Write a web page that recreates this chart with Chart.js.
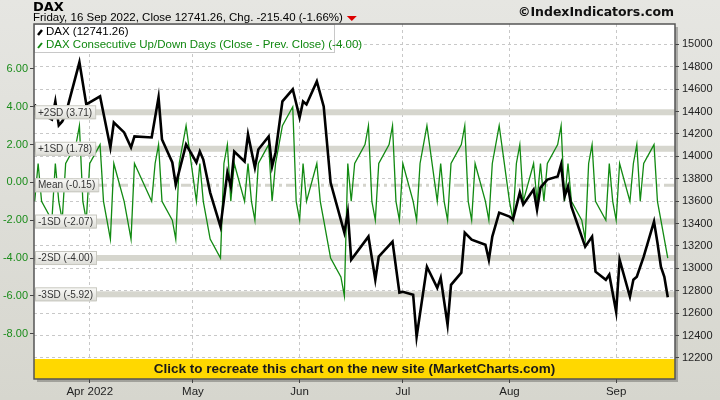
<!DOCTYPE html>
<html><head><meta charset="utf-8">
<script src="https://cdn.jsdelivr.net/npm/chart.js@4"></script>
<style>html,body{margin:0;padding:0;background:#e4e4e0}#wrap{width:720px;height:400px;position:relative}</style>
</head><body><div id="wrap"><canvas id="c" width="720" height="400"></canvas></div>
<script>
// trading days per month (2022)
const marDays=[16,17,18,21,22,23,24,25,28,29,30,31];
const aprDays=[1,4,5,6,7,8,11,12,13,14,19,20,21,22,25,26,27,28,29];
const mayDays=[2,3,4,5,6,9,10,11,12,13,16,17,18,19,20,23,24,25,26,27,30,31];
const junDays=[1,2,3,6,7,8,9,10,13,14,15,16,17,20,21,22,23,24,27,28,29,30];
const julDays=[1,4,5,6,7,8,11,12,13,14,15,18,19,20,21,22,25,26,27,28,29];
const augDays=[1,2,3,4,5,8,9,10,11,12,15,16,17,18,19,22,23,24,25,26,29,30,31];
const sepDays=[1,2,5,6,7,8,9,12,13,14,15,16];
// DAX close (null = not read, line spans)
const daxMar=[14463,14392,null,14329,14490,14276,14311,14374,null,14839,null,14463];
const daxApr=[null,14535,null,null,14079,14302,14213,null,14079,14177,14168,null,14526,14150,13945,13748,null,null,14106];
const daxMay=[13945,14043,13971,null,13676,13372,null,13855,13730,14043,13954,14195,null,13900,14061,14177,13909,14034,null,14490,14598,null];
const daxJun=[14347,14490,14463,14669,null,14445,null,13766,null,13319,13497,13077,null,null,13283,null,12898,13104,null,13238,null,12782];
const daxJul=[12790,12764,12388,null,null,13014,12826,12916,null,12496,12853,12961,13319,null,13256,null,13211,13077,13283,null,13497];
const daxAug=[13462,13435,null,13676,13569,13703,13524,13721,null,13792,13819,13927,13640,13730,13551,null,13193,null,13283,12970,12898,12943,null];
const daxSep=[12612,13077,12746,12898,12925,null,13104,13417,13229,13014,12925,12741];
// consecutive up/down days
const cudMar=[-1,1,-1,-2,1,-1,-2,1,2,3,-1,-2];
const cudApr=[1,2,-1,-2,-3,1,-1,-2,-3,1,-1,1,2,-1,-2,-3,1,2,3];
const cudMay=[-1,1,-1,-2,-3,-4,1,2,-1,1,-1,1,-1,-2,1,2,-1,1,2,3,4,-1];
const cudJun=[-2,1,-1,1,-1,-2,-3,-4,-5,-6,1,-1,1,2,3,-1,-2,1,2,3,-1,-2];
const cudJul=[1,-1,-2,1,2,3,-1,1,-1,-2,1,2,3,-1,-2,1,-1,-2,1,2,3];
const cudAug=[-1,-2,1,2,-1,1,-1,1,-1,1,2,3,-1,1,-1,-2,-3,1,2,-1,-2,1,-1];
const cudSep=[-2,1,-1,1,2,-1,1,2,-1,-2,-3,-4];
const monthTickDoy=[91,121,152,182,213,244];
const monthTickLabels=['Apr 2022','May','Jun','Jul','Aug','Sep'];
const leftTicks=[-8,-6,-4,-2,0,2,4,6];
const bandValues=[3.71,1.78,-0.15,-2.07,-4.00,-5.92];
const bandLabels=['+2SD (3.71)','+1SD (1.78)','Mean (-0.15)','-1SD (-2.07)','-2SD (-4.00)','-3SD (-5.92)'];

const monthStart={3:59,4:90,5:120,6:151,7:181,8:212,9:243};
function build(month,days,vals){return days.map((d,i)=>({x:monthStart[month]+d,y:vals[i]}));}
const daxData=[].concat(build(3,marDays,daxMar),build(4,aprDays,daxApr),build(5,mayDays,daxMay),build(6,junDays,daxJun),build(7,julDays,daxJul),build(8,augDays,daxAug),build(9,sepDays,daxSep));
const cudData=[].concat(build(3,marDays,cudMar),build(4,aprDays,cudApr),build(5,mayDays,cudMay),build(6,junDays,cudJun),build(7,julDays,cudJul),build(8,augDays,cudAug),build(9,sepDays,cudSep));

const FONT='"DejaVu Sans", sans-serif';
const LIB='"Liberation Sans", Arial, sans-serif';
const bg={id:'bg',beforeDraw(ch){const c=ch.ctx,a=ch.chartArea;c.save();
 const g=c.createLinearGradient(0,0,0,400);g.addColorStop(0,'#e6e6e2');g.addColorStop(1,'#d6d6ce');
 c.fillStyle=g;c.fillRect(0,0,720,400);
 c.fillStyle='rgba(0,0,0,0.25)';c.fillRect(a.left+3,a.top+3,a.width,a.height);
 c.fillStyle='#fff';c.fillRect(a.left,a.top,a.width,a.height);
 c.restore();},
 beforeDatasetsDraw(ch){const c=ch.ctx,a=ch.chartArea;c.save();
 const yl=ch.scales.yL;
 bandValues.forEach((v,i)=>{const y=yl.getPixelForValue(v);
  if(i==2){c.strokeStyle='#d4d4cc';c.lineWidth=3;c.setLineDash([10,4,3,4]);c.beginPath();c.moveTo(a.left,y);c.lineTo(a.right,y);c.stroke();c.setLineDash([]);}
  else{c.fillStyle='#d6d6ce';c.fillRect(a.left,y-3,a.width,6);}
 });
 c.restore();},
 afterDatasetsDraw(ch){const c=ch.ctx,a=ch.chartArea,yl=ch.scales.yL;c.save();
 c.font='10px '+LIB;c.textBaseline='middle';
 bandValues.forEach((v,i)=>{const y=yl.getPixelForValue(v);const w=c.measureText(bandLabels[i]).width+6;
  const g=c.createLinearGradient(0,y-7,0,y+7);g.addColorStop(0,'#fbfbf9');g.addColorStop(1,'#dcdcd6');
  c.fillStyle=g;c.fillRect(a.left+1,y-7,w,14);c.strokeStyle='#c8c8c0';c.lineWidth=1;c.strokeRect(a.left+1.5,y-6.5,w,13);
  c.fillStyle='#333';c.fillText(bandLabels[i],a.left+4,y+0.5);});
 // banner
 c.fillStyle='#ffd800';c.fillRect(a.left,a.bottom-20,a.width,20);
 c.fillStyle='#1a1a1a';c.font='bold 13.5px '+LIB;c.textAlign='center';c.fillText('Click to recreate this chart on the new site (MarketCharts.com)',(a.left+a.right)/2,a.bottom-9.5);
 // legend
 c.textAlign='left';c.fillStyle='#fff';c.fillRect(a.left,a.top,300,28);c.strokeStyle='#c8c8c8';c.strokeRect(a.left+0.5,a.top+0.5,300,28);
 c.font='11.5px '+LIB;
 c.lineWidth=2.5;c.strokeStyle='#000';c.beginPath();c.moveTo(a.left+4,a.top+11);c.lineTo(a.left+8,a.top+6);c.stroke();
 c.fillStyle='#000';c.fillText('DAX (12741.26)',a.left+12,a.top+8);
 c.strokeStyle='#118811';c.lineWidth=2;c.beginPath();c.moveTo(a.left+4,a.top+24);c.lineTo(a.left+8,a.top+19);c.stroke();
 c.fillStyle='#118811';c.fillText('DAX Consecutive Up/Down Days (Close - Prev. Close) (-4.00)',a.left+12,a.top+21);
 // border
 c.strokeStyle='#555';c.lineWidth=1.5;c.strokeRect(a.left,a.top,a.width,a.height);
 // header
 c.textBaseline='alphabetic';
 c.fillStyle='#000';c.font='bold 13px '+FONT;c.fillText('DAX',33,11);
 c.font='11.5px '+LIB;const t='Friday, 16 Sep 2022, Close 12741.26, Chg. -215.40 (-1.66%)';c.fillText(t,33,21);
 const tw=c.measureText(t).width;c.fillStyle='#dd0000';c.beginPath();c.moveTo(33+tw+4,16);c.lineTo(33+tw+14,16);c.lineTo(33+tw+9,21);c.closePath();c.fill();
 c.fillStyle='#111';c.font='bold 12.5px '+FONT;c.textAlign='right';c.fillText('©IndexIndicators.com',674,16);
 c.restore();}
};
new Chart(document.getElementById('c'),{
 type:'line',
 plugins:[bg],
 data:{datasets:[
  {label:'CUD',data:cudData,yAxisID:'yL',borderColor:'#128a12',borderWidth:1.3,pointRadius:0,tension:0,order:2},
  {label:'DAX',data:daxData,yAxisID:'yR',borderColor:'#000',borderWidth:2.6,pointRadius:0,tension:0,spanGaps:true,order:1}
 ]},
 options:{responsive:false,animation:false,events:[],
  layout:{padding:{top:24,left:0,right:0,bottom:0}},
  plugins:{legend:{display:false},tooltip:{enabled:false}},
  scales:{
   x:{type:'linear',min:74.8,max:261.1,afterFit(s){s.height=21;},
    afterBuildTicks(s){s.ticks=monthTickDoy.map(v=>({value:v}));},
    ticks:{callback:(v)=>monthTickLabels[monthTickDoy.indexOf(v)],color:'#222',font:{family:LIB,size:11.5},padding:2,maxRotation:0,autoSkip:false},
    grid:{color:'#c8c8c8',tickColor:'#444',tickLength:4,drawTicks:true},border:{display:false,dash:[3,3]}},
   yL:{position:'left',min:-10.4,max:8.38,afterFit(s){s.width=34;},
    afterBuildTicks(s){s.ticks=leftTicks.map(v=>({value:v}));},
    ticks:{callback:v=>v.toFixed(2),color:'#1a8c1a',font:{family:LIB,size:11},padding:2},
    grid:{drawOnChartArea:false,tickColor:'#444',tickLength:4},border:{display:false}},
   yR:{position:'right',min:12012,max:15181,afterFit(s){s.width=45;},
    afterBuildTicks(s){const t=[];for(let v=12200;v<=15000;v+=200)t.push({value:v});s.ticks=t;},
    ticks:{callback:v=>String(v),color:'#222',font:{family:LIB,size:11},padding:3},
    grid:{color:'#c8c8c8',tickColor:'#444',tickLength:4},border:{display:false,dash:[3,3]}}
  }
 }
});
</script></body></html>
